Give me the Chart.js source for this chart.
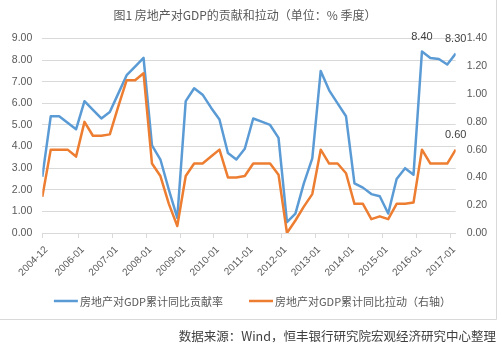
<!DOCTYPE html>
<html>
<head>
<meta charset="utf-8">
<script src="https://cdn.jsdelivr.net/npm/chart.js@4"></script>
<style>
  html, body { margin: 0; padding: 0; background: #fff; }
  canvas { display: block; }
</style>
</head>
<body>
<canvas id="chart" width="500" height="348"></canvas>
<script>
// quarterly data, 2004-12 .. 2017-03
const quarters = [
  '2004-12',
  '2005-03','2005-06','2005-09','2005-12',
  '2006-03','2006-06','2006-09','2006-12',
  '2007-03','2007-06','2007-09','2007-12',
  '2008-03','2008-06','2008-09','2008-12',
  '2009-03','2009-06','2009-09','2009-12',
  '2010-03','2010-06','2010-09','2010-12',
  '2011-03','2011-06','2011-09','2011-12',
  '2012-03','2012-06','2012-09','2012-12',
  '2013-03','2013-06','2013-09','2013-12',
  '2014-03','2014-06','2014-09','2014-12',
  '2015-03','2015-06','2015-09','2015-12',
  '2016-03','2016-06','2016-09','2016-12',
  '2017-03'
];
// 房地产对GDP累计同比贡献率 (left axis)
const contribution = [
  2.6,
  5.4, 5.4, 5.1, 4.8,
  6.1, 5.7, 5.3, 5.6,
  6.45, 7.3, 7.7, 8.1,
  4.05, 3.4, 2.0, 0.7,
  6.1, 6.7, 6.4, 5.8,
  5.25, 3.7, 3.4, 3.9,
  5.3, 5.15, 5.0, 4.4,
  0.5, 0.9, 2.3, 3.45,
  7.5, 6.6, 6.0, 5.4,
  2.3, 2.1, 1.8, 1.7,
  0.9, 2.5, 3.0, 2.7,
  8.4, 8.1, 8.05, 7.8,
  8.3
];
// 房地产对GDP累计同比拉动 (right axis)
const pull = [
  0.26,
  0.6, 0.6, 0.6, 0.55,
  0.8, 0.7, 0.7, 0.71,
  0.91, 1.1, 1.1, 1.15,
  0.5, 0.41, 0.21, 0.05,
  0.41, 0.5, 0.5, 0.55,
  0.6, 0.4, 0.4, 0.41,
  0.5, 0.5, 0.5, 0.42,
  0.0, 0.09, 0.19, 0.28,
  0.6, 0.5, 0.5, 0.43,
  0.21, 0.21, 0.1, 0.12,
  0.1, 0.21, 0.21, 0.22,
  0.6, 0.5, 0.5, 0.5,
  0.6
];
const tickLabels = ['2004-12','2006-01','2007-01','2008-01','2009-01','2010-01',
  '2011-01','2012-01','2013-01','2014-01','2015-01','2016-01','2017-01'];
const seriesNames = ['房地产对GDP累计同比贡献率', '房地产对GDP累计同比拉动（右轴）'];
const labelledContribution = [45, 49];
const labelledPull = [49];

const titleText = '图1 房地产对GDP的贡献和拉动（单位：% 季度）';
const sourceText = '数据来源：Wind，恒丰银行研究院宏观经济研究中心整理';

// months since 2004-12
function monthIndex(s) {
  const [y, m] = s.split('-').map(Number);
  return (y - 2004) * 12 + (m - 12);
}

const BLUE = '#5B9BD5';
const ORANGE = '#ED7D31';
const GRID = '#D9D9D9';
const TXT = '#595959';
const SANS = '"Liberation Sans", Arial, sans-serif';
const CJK = '"Noto Sans CJK SC", "Noto Sans", sans-serif';

const decor = {
  id: 'decor',
  beforeDraw(chart) {
    const c = chart.ctx;
    c.save();
    c.fillStyle = '#fff';
    c.fillRect(0, 0, chart.width, chart.height);
    c.restore();
  },
  afterDatasetsDraw(chart) {
    const c = chart.ctx;
    c.save();
    c.font = '11px ' + SANS;
    c.fillStyle = '#404040';
    c.textAlign = 'center';
    c.textBaseline = 'middle';
    const put = (dsIndex, idxs) => {
      const meta = chart.getDatasetMeta(dsIndex);
      const vals = chart.data.datasets[dsIndex].data;
      idxs.forEach(i => {
        const p = meta.data[i];
        c.fillText(vals[i].y.toFixed(2), p.x, p.y - 14.5);
      });
    };
    put(0, labelledContribution);
    put(1, labelledPull);
    c.restore();
  },
  afterDraw(chart) {
    const c = chart.ctx;
    c.save();
    // frame (right + bottom edges visible)
    c.strokeStyle = GRID;
    c.lineWidth = 1;
    c.beginPath();
    c.moveTo(0, 319.5);
    c.lineTo(496.5, 319.5);
    c.lineTo(496.5, 0);
    c.stroke();

    // title
    c.fillStyle = TXT;
    c.font = '12px ' + CJK;
    c.textAlign = 'center';
    c.textBaseline = 'middle';
    c.fillText(titleText, 245, 15);

    // legend
    c.font = '11px ' + CJK;
    c.textAlign = 'left';
    const sample = 24, gap = 2, itemGap = 26;
    const widths = seriesNames.map(n => c.measureText(n).width);
    const total = widths.reduce((a, w) => a + sample + gap + w, 0) + itemGap;
    let x = 252.5 - total / 2;
    const ly = 301;
    chart.data.datasets.forEach((ds, i) => {
      c.strokeStyle = ds.borderColor;
      c.lineWidth = 2.5;
      c.beginPath();
      c.moveTo(x, ly);
      c.lineTo(x + sample, ly);
      c.stroke();
      c.fillStyle = TXT;
      c.fillText(seriesNames[i], x + sample + gap, ly + 0.5);
      x += sample + gap + widths[i] + itemGap;
    });

    // source note
    c.font = '12.5px ' + CJK;
    c.fillStyle = '#404040';
    c.textAlign = 'right';
    c.fillText(sourceText, 496, 336);
    c.restore();
  }
};

new Chart(document.getElementById('chart'), {
  type: 'line',
  data: {
    datasets: [
      {
        label: seriesNames[0],
        data: quarters.map((q, i) => ({ x: monthIndex(q), y: contribution[i] })),
        borderColor: BLUE,
        backgroundColor: BLUE,
        borderWidth: 2.5,
        borderJoinStyle: 'round',
        pointRadius: 0,
        tension: 0,
        yAxisID: 'y',
        order: 1
      },
      {
        label: seriesNames[1],
        data: quarters.map((q, i) => ({ x: monthIndex(q), y: pull[i] })),
        borderColor: ORANGE,
        backgroundColor: ORANGE,
        borderWidth: 2.5,
        borderJoinStyle: 'round',
        pointRadius: 0,
        tension: 0,
        yAxisID: 'y1',
        order: 0
      }
    ]
  },
  options: {
    responsive: false,
    animation: false,
    layout: { padding: { top: 38.5, left: 0, right: 0, bottom: 0 } },
    plugins: {
      legend: { display: false },
      title: { display: false },
      tooltip: { enabled: false }
    },
    scales: {
      x: {
        type: 'linear',
        min: 0,
        max: monthIndex(quarters[quarters.length - 1]),
        afterBuildTicks: (scale) => {
          scale.ticks = tickLabels.map(l => ({ value: monthIndex(l) }));
        },
        afterFit: (scale) => { scale.height = 115; },
        ticks: {
          autoSkip: false,
          minRotation: 45,
          maxRotation: 45,
          padding: 6,
          labelOffset: 4,
          color: TXT,
          font: { family: SANS, size: 10 },
          callback: (v, i) => tickLabels[i]
        },
        grid: { drawOnChartArea: false, color: GRID, tickLength: 5 },
        border: { color: GRID }
      },
      y: {
        position: 'left',
        min: 0,
        max: 9,
        afterFit: (scale) => { scale.width = 42.3; },
        ticks: {
          stepSize: 1,
          padding: 10,
          color: TXT,
          font: { family: SANS, size: 10.5 },
          callback: (v) => v.toFixed(2)
        },
        grid: { color: GRID, drawTicks: false },
        border: { display: false }
      },
      y1: {
        position: 'right',
        min: 0,
        max: 1.4,
        afterFit: (scale) => { scale.width = 44.3; },
        ticks: {
          stepSize: 0.2,
          padding: 11,
          color: TXT,
          font: { family: SANS, size: 10.5 },
          callback: (v) => v.toFixed(2)
        },
        grid: { drawOnChartArea: false, drawTicks: false },
        border: { display: false }
      }
    }
  },
  plugins: [decor]
});
</script>
</body>
</html>
